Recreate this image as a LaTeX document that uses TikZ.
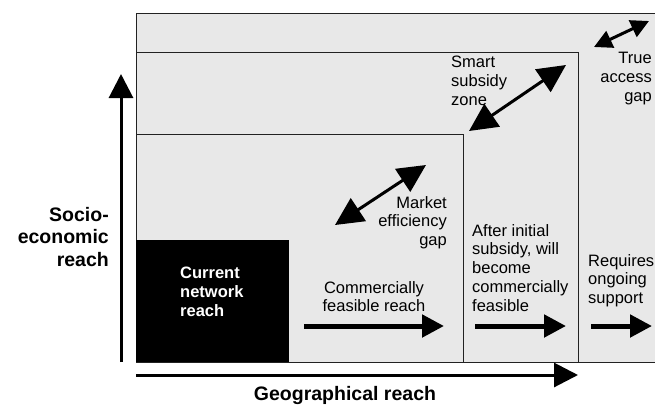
\documentclass[tikz,border=0pt]{standalone}
\usepackage{fontspec}
\setmainfont{Liberation Sans}
\usepackage{xcolor}
\usepackage{tikz}
\usetikzlibrary{arrows.meta}
\definecolor{zonegray}{RGB}{232,232,232}
\definecolor{edgegray}{RGB}{34,34,34}

\begin{document}
\begin{tikzpicture}[x=1pt,y=-1pt,
  zone/.style={draw=edgegray,line width=1pt,fill=zonegray},
  axis/.style={line width=3pt,-{Triangle[length=24pt,width=24pt]}},
  push/.style={line width=5pt,-{Triangle[length=22pt,width=22pt]}},
  gap/.style={line width=3pt,{Triangle[length=28pt,width=27pt]}-{Triangle[length=28pt,width=27pt]}},
  smallgap/.style={line width=3pt,{Triangle[length=18pt,width=18pt]}-{Triangle[length=18pt,width=18pt]}},
  txt/.style={inner sep=0pt,font=\fontsize{16.5}{18.8}\selectfont},
  axislbl/.style={inner sep=0pt,font=\bfseries\fontsize{19.5}{22.5}\selectfont}]
  \useasboundingbox (0,0) rectangle (655,405);
  % nested zones
  \draw[zone] (136,13) rectangle (670,362);
  \draw[zone] (136,52) rectangle (578,362);
  \draw[zone] (136,134) rectangle (463,362);
  \fill[black] (136,240) rectangle (289,362);
  % axes
  \coordinate (yfoot) at (121,362); \coordinate (ytip) at (121,74);
  \coordinate (xfoot) at (136,375); \coordinate (xtip) at (578,375);
  \draw[axis] (yfoot) -- (ytip);
  \draw[axis] (xfoot) -- (xtip);
  \node[axislbl,anchor=north east,align=right] (socio) at (109,207) {Socio-\\economic\\reach};
  \node[axislbl,anchor=north] (geo) at (345,386) {Geographical reach};
  % zone labels
  \node[txt,anchor=north west,align=left,white,font=\bfseries\fontsize{16.5}{19}\selectfont] (current) at (180,267) {Current\\network\\reach};
  \node[txt,anchor=north,align=center] (commercial) at (374,281) {Commercially\\feasible reach};
  \node[txt,anchor=north west,align=left] (after) at (472,224) {After initial\\subsidy, will\\become\\commercially\\feasible};
  \node[txt,anchor=north west,align=left] (requires) at (588,254) {Requires\\ongoing\\support};
  \node[txt,anchor=north east,align=right] (market) at (447,196) {Market\\efficiency\\gap};
  \node[txt,anchor=north west,align=left] (smart) at (451,56) {Smart\\subsidy\\zone};
  \node[txt,anchor=north east,align=right] (trueaccess) at (652,52) {True\\access\\gap};
  % gap arrows
  \coordinate (m1) at (335,225); \coordinate (m2) at (426,165);
  \coordinate (s1) at (469,131); \coordinate (s2) at (566,65);
  \coordinate (t1) at (594,47);  \coordinate (t2) at (649,21);
  \draw[gap] (m1) -- (m2);
  \draw[gap] (s1) -- (s2);
  \draw[smallgap] (t1) -- (t2);
  % reach arrows
  \coordinate (c1) at (304,326); \coordinate (c2) at (444,326);
  \coordinate (a1) at (475,326); \coordinate (a2) at (566,326);
  \coordinate (r1) at (591,326); \coordinate (r2) at (652,326);
  \draw[push] (c1) -- (c2);
  \draw[push] (a1) -- (a2);
  \draw[push] (r1) -- (r2);
\end{tikzpicture}
\end{document}
